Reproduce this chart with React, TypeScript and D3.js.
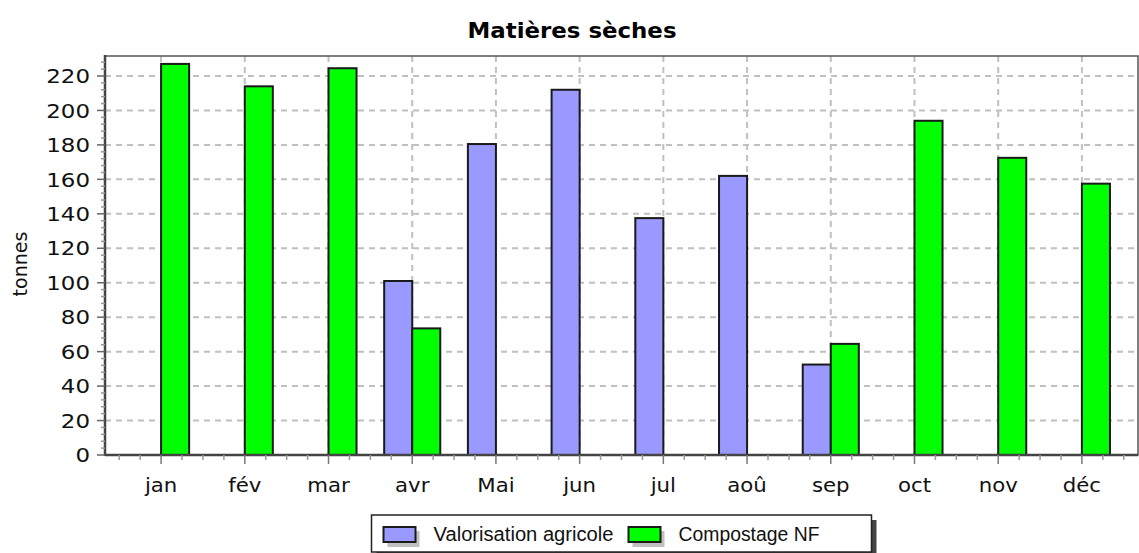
import * as d3 from "d3";

const months = ["jan", "fév", "mar", "avr", "Mai", "jun", "jul", "aoû", "sep", "oct", "nov", "déc"];
const valorisation = [null, null, null, 101, 180.5, 212, 137.5, 162, 52.5, null, null, null];
const compostage = [227, 214, 224.5, 73.5, null, null, null, null, 64.5, 194, 172.5, 157.5];
const seriesNames = ["Valorisation agricole", "Compostage NF"];
const seriesColors = ["#9999ff", "#00ff00"];
const yTicks = [0, 20, 40, 60, 80, 100, 120, 140, 160, 180, 200, 220];

const W = 1139;
const H = 553;
const left = 105;
const right = 1138;
const top = 56;
const bottom = 455;

const App = () => {
  const x = d3.scaleBand<string>().domain(months).range([left, right]).paddingInner(0).paddingOuter(0.17);
  const bw = x.bandwidth();
  const xs = d3.scaleBand<string>().domain(seriesNames).range([bw * 0.165, bw * 0.835]);
  const y = d3.scaleLinear().domain([0, 231.6]).range([bottom, top]);

  const series = [valorisation, compostage];
  const bars = series.flatMap((vals, si) =>
    vals.map((v, i) => ({ s: seriesNames[si], si, m: months[i], v })).filter((d) => d.v != null)
  );

  // minor ticks on x axis: quarter-steps across each band
  const xMinor = months.flatMap((m) => [0, 0.25, 0.75].map((f) => (x(m) as number) + f * bw));
  xMinor.push((x(months[months.length - 1]) as number) + bw);
  const yMinor = d3.range(0, 232, 4).filter((v) => v % 20 !== 0);

  const legendCx = (left + right) / 2;
  const lx = legendCx - 250;
  const ly = 515;
  const legendTextW = [180, 141];

  return (
    <svg
      width={W}
      height={H}
      style={{ position: "absolute", left: 0, top: 0, background: "#fff" }}
      fontFamily="DejaVu Sans, sans-serif"
    >
      <rect x={0} y={0} width={W} height={H} fill="#fff" />
      <text
        x={572}
        y={38}
        textAnchor="middle"
        fontWeight="bold"
        fontSize={21}
        fill="#000"
        textLength={209}
        lengthAdjust="spacingAndGlyphs"
      >
        Matières sèches
      </text>

      {/* grid */}
      <g stroke="#c0c0c0" strokeWidth={2} strokeDasharray="6 5">
        {yTicks.map((t) => (
          <line key={"h" + t} x1={left} x2={right} y1={y(t)} y2={y(t)} />
        ))}
        {months.map((m) => (
          <line
            key={"v" + m}
            x1={(x(m) as number) + bw / 2}
            x2={(x(m) as number) + bw / 2}
            y1={top}
            y2={bottom}
          />
        ))}
      </g>

      {/* bars */}
      <g stroke="#1a1a1a" strokeWidth={2}>
        {bars.map((d) => (
          <rect
            key={d.s + d.m}
            x={(x(d.m) as number) + (xs(d.s) as number)}
            y={y(d.v as number)}
            width={xs.bandwidth()}
            height={bottom - y(d.v as number)}
            fill={seriesColors[d.si]}
          />
        ))}
      </g>

      {/* frame */}
      <rect x={left} y={top} width={right - left} height={bottom - top} fill="none" stroke="#555" strokeWidth={1.5} />
      <line x1={left} x2={left} y1={top - 1} y2={bottom + 1} stroke="#444" strokeWidth={2.5} />
      <line x1={left} x2={right} y1={bottom} y2={bottom} stroke="#444" strokeWidth={2.5} />

      {/* y axis ticks */}
      <g stroke="#666" strokeWidth={1.5}>
        {yTicks.map((t) => (
          <line key={"yt" + t} x1={left - 8} x2={left} y1={y(t)} y2={y(t)} />
        ))}
        {yMinor.map((t) => (
          <line key={"ym" + t} x1={left - 4} x2={left} y1={y(t)} y2={y(t)} stroke="#999" />
        ))}
      </g>
      <g fontSize={20} fill="#111">
        {yTicks.map((t) => (
          <text
            key={"yl" + t}
            x={90}
            y={y(t)}
            textAnchor="end"
            dy="0.36em"
            textLength={String(t).length * 14.6}
            lengthAdjust="spacingAndGlyphs"
          >
            {t}
          </text>
        ))}
      </g>
      <text transform={`translate(27,264) rotate(-90)`} textAnchor="middle" fontSize={19} fill="#111">
        tonnes
      </text>

      {/* x axis ticks */}
      <g stroke="#999" strokeWidth={1.5}>
        {xMinor.map((v, i) => (
          <line key={"xm" + i} x1={v} x2={v} y1={bottom} y2={bottom + 5} />
        ))}
        {months.map((m) => (
          <line
            key={"xt" + m}
            x1={(x(m) as number) + bw / 2}
            x2={(x(m) as number) + bw / 2}
            y1={bottom}
            y2={bottom + 9}
            stroke="#777"
          />
        ))}
      </g>
      <g fontSize={19} fill="#111">
        {months.map((m) => (
          <text key={"xl" + m} transform={`translate(${(x(m) as number) + bw / 2},492) scale(1.12,1)`} textAnchor="middle">
            {m}
          </text>
        ))}
      </g>

      {/* legend */}
      <rect x={lx + 5} y={ly + 5} width={500} height={37} fill="#444" />
      <rect x={lx} y={ly} width={500} height={37} fill="#fff" stroke="#222" strokeWidth={1.5} />
      {seriesNames.map((s, i) => {
        const sx = i === 0 ? lx + 12 : lx + 257;
        return (
          <g key={"lg" + s}>
            <rect x={sx + 4} y={ly + 16} width={32} height={16} fill="#c0c0c0" />
            <rect x={sx} y={ly + 12} width={32} height={15} fill={seriesColors[i]} stroke="#1a1a1a" strokeWidth={2} />
            <text
              x={sx + 50}
              y={ly + 26}
              fontFamily="Liberation Sans, Arial, sans-serif"
              fontSize={20}
              fill="#111"
              textLength={legendTextW[i]}
              lengthAdjust="spacingAndGlyphs"
            >
              {s}
            </text>
          </g>
        );
      })}
    </svg>
  );
};

export default App;
